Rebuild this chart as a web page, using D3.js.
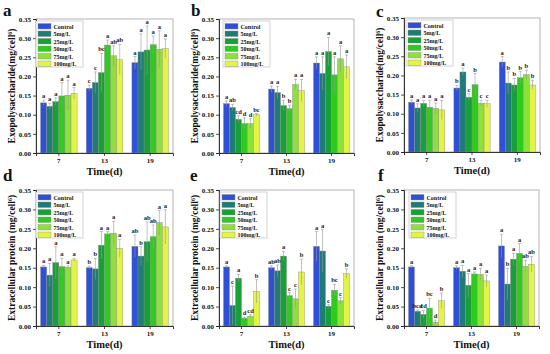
<!DOCTYPE html>
<html>
<head>
<meta charset="utf-8">
<script src="https://cdn.jsdelivr.net/npm/d3@7"></script>
<style>
  body { margin: 0; background: #fff; }
  svg { display: block; }
  text { font-family: "Liberation Serif", "DejaVu Serif", serif; font-weight: bold; }
</style>
</head>
<body>
<div id="chart"></div>
<script>
const days = ["7", "13", "19"];
const groups = ["Control", "5mg/L", "25mg/L", "50mg/L", "75mg/L", "100mg/L"];
const yTicks = [0, 0.05, 0.10, 0.15, 0.20, 0.25, 0.30, 0.35];

// one row per day, one value per group
const epsA = [[0.131, 0.122, 0.134, 0.149, 0.151, 0.156], [0.169, 0.184, 0.210, 0.282, 0.254, 0.244], [0.236, 0.264, 0.269, 0.283, 0.271, 0.273]];
const epsAErr = [[0.007, 0.008, 0.010, 0.035, 0.039, 0.015], [0.008, 0.028, 0.050, 0.013, 0.026, 0.040], [0.016, 0.047, 0.063, 0.023, 0.048, 0.025]];
const epsALetters = [["a", "a", "a", "a", "a", "a"], ["c", "c", "bc", "a", "ab", "ab"], ["a", "a", "a", "a", "a", "a"]];

const epsB = [[0.129, 0.119, 0.088, 0.077, 0.077, 0.100], [0.167, 0.158, 0.124, 0.116, 0.179, 0.163], [0.235, 0.208, 0.265, 0.204, 0.246, 0.225]];
const epsBErr = [[0.007, 0.008, 0.009, 0.015, 0.013, 0.003], [0.008, 0.016, 0.014, 0.009, 0.013, 0.029], [0.016, 0.043, 0.037, 0.047, 0.034, 0.031]];
const epsBLetters = [["a", "ab", "cd", "d", "d", "bc"], ["a", "a", "b", "b", "a", "a"], ["a", "a", "a", "a", "a", "a"]];

const epsC = [[0.130, 0.115, 0.127, 0.117, 0.114, 0.110], [0.167, 0.209, 0.143, 0.176, 0.127, 0.126], [0.235, 0.180, 0.175, 0.194, 0.202, 0.175]];
const epsCErr = [[0.006, 0.011, 0.008, 0.018, 0.014, 0.025], [0.007, 0.010, 0.009, 0.029, 0.008, 0.009], [0.014, 0.029, 0.017, 0.016, 0.012, 0.012]];
const epsCLetters = [["a", "a", "a", "a", "a", "a"], ["b", "a", "c", "b", "c", "c"], ["a", "b", "b", "b", "b", "b"]];

const protD = [[0.152, 0.131, 0.163, 0.153, 0.151, 0.170], [0.150, 0.147, 0.208, 0.237, 0.239, 0.200], [0.205, 0.180, 0.217, 0.230, 0.266, 0.255]];
const protDErr = [[0.004, 0.030, 0.041, 0.021, 0.004, 0.004], [0.004, 0.027, 0.035, 0.006, 0.030, 0.023], [0.029, 0.024, 0.051, 0.030, 0.031, 0.044]];
const protDLetters = [["a", "a", "a", "a", "a", "a"], ["b", "b", "a", "a", "a", "a"], ["ab", "b", "ab", "ab", "a", "a"]];

const protE = [[0.152, 0.053, 0.123, 0.020, 0.025, 0.089], [0.150, 0.142, 0.180, 0.078, 0.070, 0.139], [0.205, 0.193, 0.051, 0.092, 0.065, 0.135]];
const protEErr = [[0.003, 0.050, 0.010, 0.003, 0.004, 0.030], [0.005, 0.015, 0.012, 0.008, 0.025, 0.033], [0.038, 0.055, 0.004, 0.015, 0.008, 0.012]];
const protELetters = [["a", "c", "a", "d", "cd", "b"], ["ab", "ab", "a", "c", "c", "b"], ["a", "a", "c", "bc", "c", "b"]];

const protF = [[0.152, 0.038, 0.030, 0.046, 0.010, 0.065], [0.150, 0.141, 0.105, 0.134, 0.133, 0.116], [0.206, 0.108, 0.172, 0.187, 0.154, 0.159]];
const protFErr = [[0.003, 0.003, 0.010, 0.025, 0.005, 0.020], [0.005, 0.015, 0.030, 0.005, 0.015, 0.015], [0.030, 0.040, 0.015, 0.025, 0.015, 0.020]];
const protFLetters = [["a", "bcd", "cd", "bc", "d", "b"], ["a", "a", "a", "a", "a", "a"], ["a", "b", "a", "a", "ab", "ab"]];

const palette = ["#2f4fd8", "#1f7b76", "#17a035", "#2ecb1e", "#8ee03a", "#e3f544"];

const svg = d3.select("#chart").append("svg")
    .attr("width", 550)
    .attr("height", 354);

function drawPanel(p) {
    const x = d3.scaleBand().domain(days).range([p.left, p.right]).paddingInner(0.2).paddingOuter(0.1);
    const xs = d3.scaleBand().domain(groups).range([0, x.bandwidth()]);
    const y = d3.scaleLinear().domain([0, 0.35]).range([p.bottom, p.top]);

    const g = svg.append("g");

    // frame
    g.append("rect")
        .attr("x", p.left).attr("y", p.top)
        .attr("width", p.right - p.left).attr("height", p.bottom - p.top)
        .attr("fill", "none").attr("stroke", "#a0a0a0").attr("stroke-width", 0.8);

    const rows = [];
    p.values.forEach((row, i) => row.forEach((v, j) => {
        rows.push({day: days[i], group: groups[j], idx: j, v: v, err: p.errs[i][j], letter: p.letters[i][j]});
    }));

    g.selectAll("rect.bar").data(rows).enter().append("rect")
        .attr("class", "bar")
        .attr("x", d => x(d.day) + xs(d.group))
        .attr("y", d => y(d.v))
        .attr("width", xs.bandwidth())
        .attr("height", d => y(0) - y(d.v))
        .attr("fill", d => palette[d.idx])
        .attr("stroke", "#8a8a8a").attr("stroke-width", 0.4);

    const cx = d => x(d.day) + xs(d.group) + xs.bandwidth() / 2;
    g.selectAll("line.err").data(rows).enter().append("line")
        .attr("x1", cx).attr("x2", cx)
        .attr("y1", d => y(Math.max(0, d.v - d.err)))
        .attr("y2", d => y(d.v + d.err))
        .attr("stroke", "#999").attr("stroke-width", 0.6);
    g.selectAll("line.cap").data(rows).enter().append("line")
        .attr("x1", d => cx(d) - 1.5).attr("x2", d => cx(d) + 1.5)
        .attr("y1", d => y(d.v + d.err)).attr("y2", d => y(d.v + d.err))
        .attr("stroke", "#999").attr("stroke-width", 0.6);

    g.selectAll("text.sig").data(rows).enter().append("text")
        .attr("x", cx)
        .attr("y", d => y(d.v + d.err) - 2)
        .attr("text-anchor", "middle")
        .attr("font-size", 6.5)
        .attr("fill", "#222")
        .text(d => d.letter);

    // axes
    const yAxis = g.append("g")
        .attr("transform", `translate(${p.left},0)`)
        .call(d3.axisLeft(y).tickValues(yTicks).tickFormat(d3.format(".2f")).tickSize(3).tickPadding(2));
    yAxis.selectAll("text").attr("font-size", 7).attr("fill", "#111");

    const xAxis = g.append("g")
        .attr("transform", `translate(0,${p.bottom})`)
        .call(d3.axisBottom(x).tickSize(3).tickPadding(2));
    xAxis.selectAll("text").attr("font-size", 7).attr("fill", "#111");
    [yAxis, xAxis].forEach(a => {
        a.select(".domain").attr("stroke", "#222").attr("stroke-width", 0.9);
        a.selectAll(".tick line").attr("stroke", "#222").attr("stroke-width", 0.8);
    });

    // y label
    const midY = (p.top + p.bottom) / 2;
    const yl = g.append("text")
        .attr("transform", `translate(${p.left - 21},${midY}) rotate(-90)`)
        .attr("text-anchor", "middle")
        .attr("font-size", 9.5)
        .attr("fill", "#111");
    yl.append("tspan").text(p.ylabel);
    yl.append("tspan").attr("font-size", 6).attr("dy", -3.5).text("6");
    yl.append("tspan").attr("dy", 3.5).text(")");

    g.append("text")
        .attr("x", (p.left + p.right) / 2)
        .attr("y", p.bottom + 22)
        .attr("text-anchor", "middle")
        .attr("font-size", 10.5)
        .attr("fill", "#111")
        .text("Time(d)");

    g.append("text")
        .attr("x", p.lx).attr("y", p.ly)
        .attr("font-size", 17)
        .attr("fill", "#111")
        .text(p.name);

    // legend
    const lg = g.append("g").attr("transform", `translate(${p.left + p.legendDx},${p.top + 2})`);
    lg.append("rect")
        .attr("width", 47).attr("height", 46)
        .attr("fill", "#fff").attr("stroke", "#b5b5b5").attr("stroke-width", 0.6);
    groups.forEach((name, i) => {
        lg.append("rect")
            .attr("x", 2).attr("y", 2.5 + i * 7.5)
            .attr("width", 13).attr("height", 5.5)
            .attr("fill", palette[i]).attr("stroke", "#8a8a8a").attr("stroke-width", 0.4);
        lg.append("text")
            .attr("x", 17.5).attr("y", 7.5 + i * 7.5)
            .attr("font-size", 6)
            .attr("fill", "#111")
            .text(name);
    });
}

const epsLabel = "Exopolysaccharide(mg/cell";
const protLabel = "Extracellular protein (mg/cell";

drawPanel({name: "a", values: epsA, errs: epsAErr, letters: epsALetters, ylabel: epsLabel, left: 36, right: 173, top: 19, bottom: 153, lx: 3, ly: 16, legendDx: 0});
drawPanel({name: "b", values: epsB, errs: epsBErr, letters: epsBLetters, ylabel: epsLabel, left: 219, right: 354, top: 19, bottom: 153, lx: 191, ly: 16, legendDx: 4});
drawPanel({name: "c", values: epsC, errs: epsCErr, letters: epsCLetters, ylabel: epsLabel, left: 404, right: 540, top: 18, bottom: 152, lx: 376, ly: 17, legendDx: 2});
drawPanel({name: "d", values: protD, errs: protDErr, letters: protDLetters, ylabel: protLabel, left: 36, right: 173, top: 190, bottom: 326, lx: 3, ly: 181, legendDx: 0});
drawPanel({name: "e", values: protE, errs: protEErr, letters: protELetters, ylabel: protLabel, left: 219, right: 354, top: 190, bottom: 326, lx: 190, ly: 181, legendDx: 1});
drawPanel({name: "f", values: protF, errs: protFErr, letters: protFLetters, ylabel: protLabel, left: 404, right: 539, top: 190, bottom: 326, lx: 378, ly: 181, legendDx: 5});
</script>
</body>
</html>
